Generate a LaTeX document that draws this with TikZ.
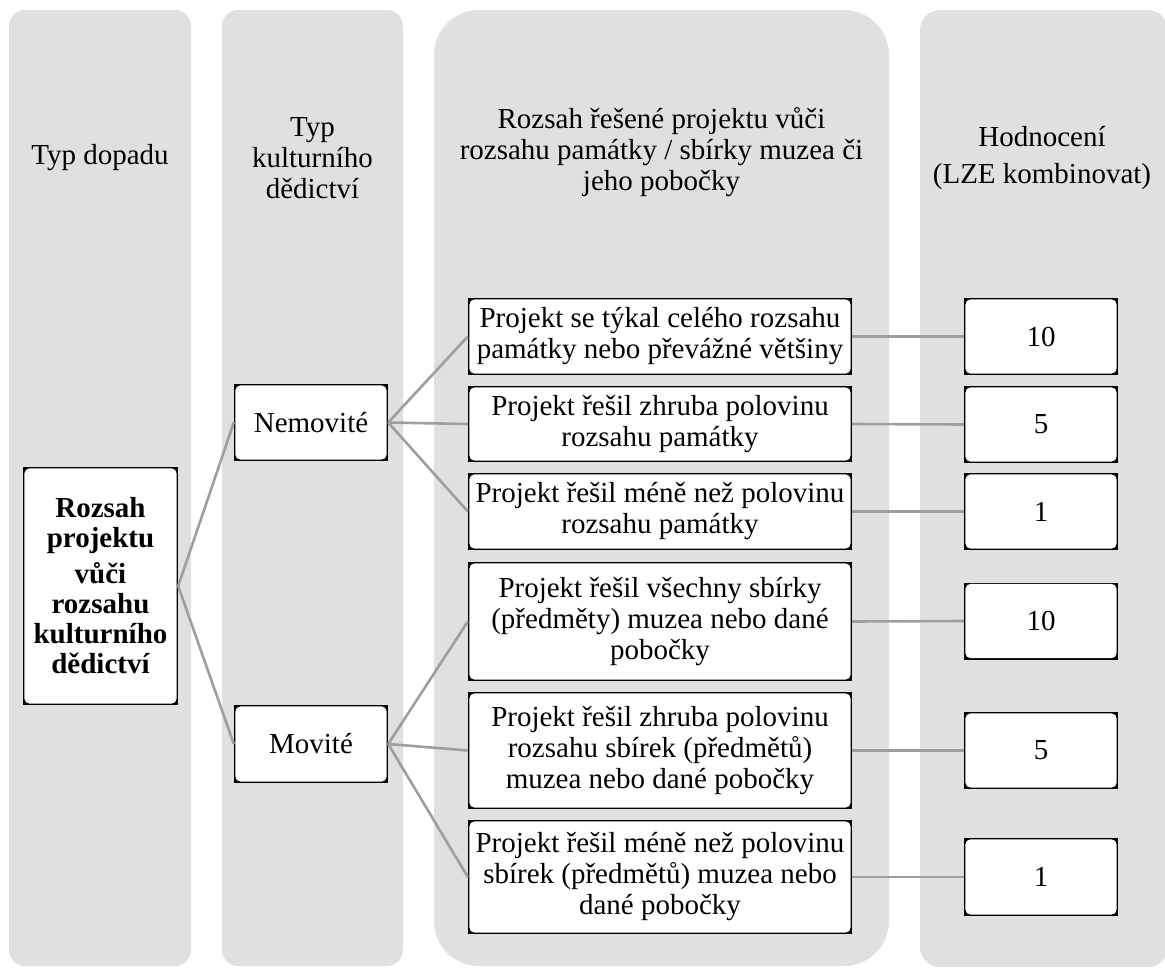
\documentclass[tikz,border=0pt]{standalone}
\usepackage{fontspec}
\setmainfont{Liberation Serif}
\definecolor{colfill}{RGB}{224,224,224}
\definecolor{lnkcol}{RGB}{158,158,158}
\begin{document}
\begin{tikzpicture}[x=1pt,y=-1pt,
  font=\fontsize{29}{31}\selectfont,
  bx/.style={rectangle, fill=black, inner sep=0pt, align=center,
    path picture={\fill[white, rounded corners=5pt]
      ([shift={(1.4pt,-1.4pt)}]path picture bounding box.north west) rectangle
      ([shift={(-1.4pt,1.4pt)}]path picture bounding box.south east);}},
  smallbox/.style={bx, minimum width=154pt, minimum height=77pt},
  midbox/.style={bx, minimum width=384pt},
  hdr/.style={align=center, inner sep=0pt},
  lnk/.style={draw=lnkcol, line width=2.6pt}]
\useasboundingbox (0,0) rectangle (1165,967);
\clip (0,0) rectangle (1165,967);
% columns
\fill[colfill, rounded corners=16pt] (9,10) rectangle (191,966);
\fill[colfill, rounded corners=16pt] (222,10) rectangle (403,966);
\fill[colfill, rounded corners=45pt] (434,10) rectangle (889,966);
\fill[colfill, rounded corners=20pt] (920,10) rectangle (1168,967);
% headers
\node[hdr] (h1) at (100,158) {Typ dopadu};
\node[hdr] (h2) at (312.5,158) {Typ\\kulturního\\dědictví};
\node[hdr] (h3) at (661.5,152) {Rozsah řešené projektu vůči\\rozsahu památky / sbírky muzea či\\jeho pobočky};
\node[hdr] (h4) at (1042,158) {Hodnocení\\[6pt](LZE kombinovat)};
% main box
\node[bx, minimum width=155pt, minimum height=238pt, font=\fontsize{29}{30}\selectfont\bfseries] (main) at (100.5,586)
  {Rozsah\\projektu\\[6pt]vůči\\rozsahu\\kulturního\\dědictví};
% type boxes
\node[smallbox] (nem) at (311,422.5) {Nemovité};
\node[smallbox, minimum height=78pt] (mov) at (311,744) {Movité};
% middle boxes
\node[midbox, minimum height=77pt] (a) at (660,336.5) {Projekt se týkal celého rozsahu\\památky nebo převážné většiny};
\node[midbox, minimum height=76pt] (b) at (660,424) {Projekt řešil zhruba polovinu\\rozsahu památky};
\node[midbox, minimum height=77pt] (c) at (660,511.5) {Projekt řešil méně než polovinu\\rozsahu památky};
\node[midbox, minimum height=119pt] (d) at (660,621.5) {Projekt řešil všechny sbírky\\(předměty) muzea nebo dané\\pobočky};
\node[midbox, minimum height=117pt] (e) at (660,750.5) {Projekt řešil zhruba polovinu\\rozsahu sbírek (předmětů)\\muzea nebo dané pobočky};
\node[midbox, minimum height=114pt] (f) at (660,877) {Projekt řešil méně než polovinu\\sbírek (předmětů) muzea nebo\\dané pobočky};
% value boxes
\node[smallbox] (va) at (1041,336.5) {10};
\node[smallbox] (vb) at (1041,424.5) {5};
\node[smallbox] (vc) at (1041,511.5) {1};
\node[smallbox] (vd) at (1041,621) {10};
\node[smallbox] (ve) at (1041,750.5) {5};
\node[smallbox, minimum height=78pt] (vf) at (1041,877) {1};
% connectors
\draw[lnk] (main.east) -- (nem.west);
\draw[lnk] (main.east) -- (mov.west);
\draw[lnk] (nem.east) -- (a.west);
\draw[lnk] (nem.east) -- (b.west);
\draw[lnk] (nem.east) -- (c.west);
\draw[lnk] (mov.east) -- (d.west);
\draw[lnk] (mov.east) -- (e.west);
\draw[lnk] (mov.east) -- (f.west);
\draw[lnk] (a.east) -- (va.west);
\draw[lnk] (b.east) -- (vb.west);
\draw[lnk] (c.east) -- (vc.west);
\draw[lnk] (d.east) -- (vd.west);
\draw[lnk] (e.east) -- (ve.west);
\draw[lnk] (f.east) -- (vf.west);
\end{tikzpicture}
\end{document}
